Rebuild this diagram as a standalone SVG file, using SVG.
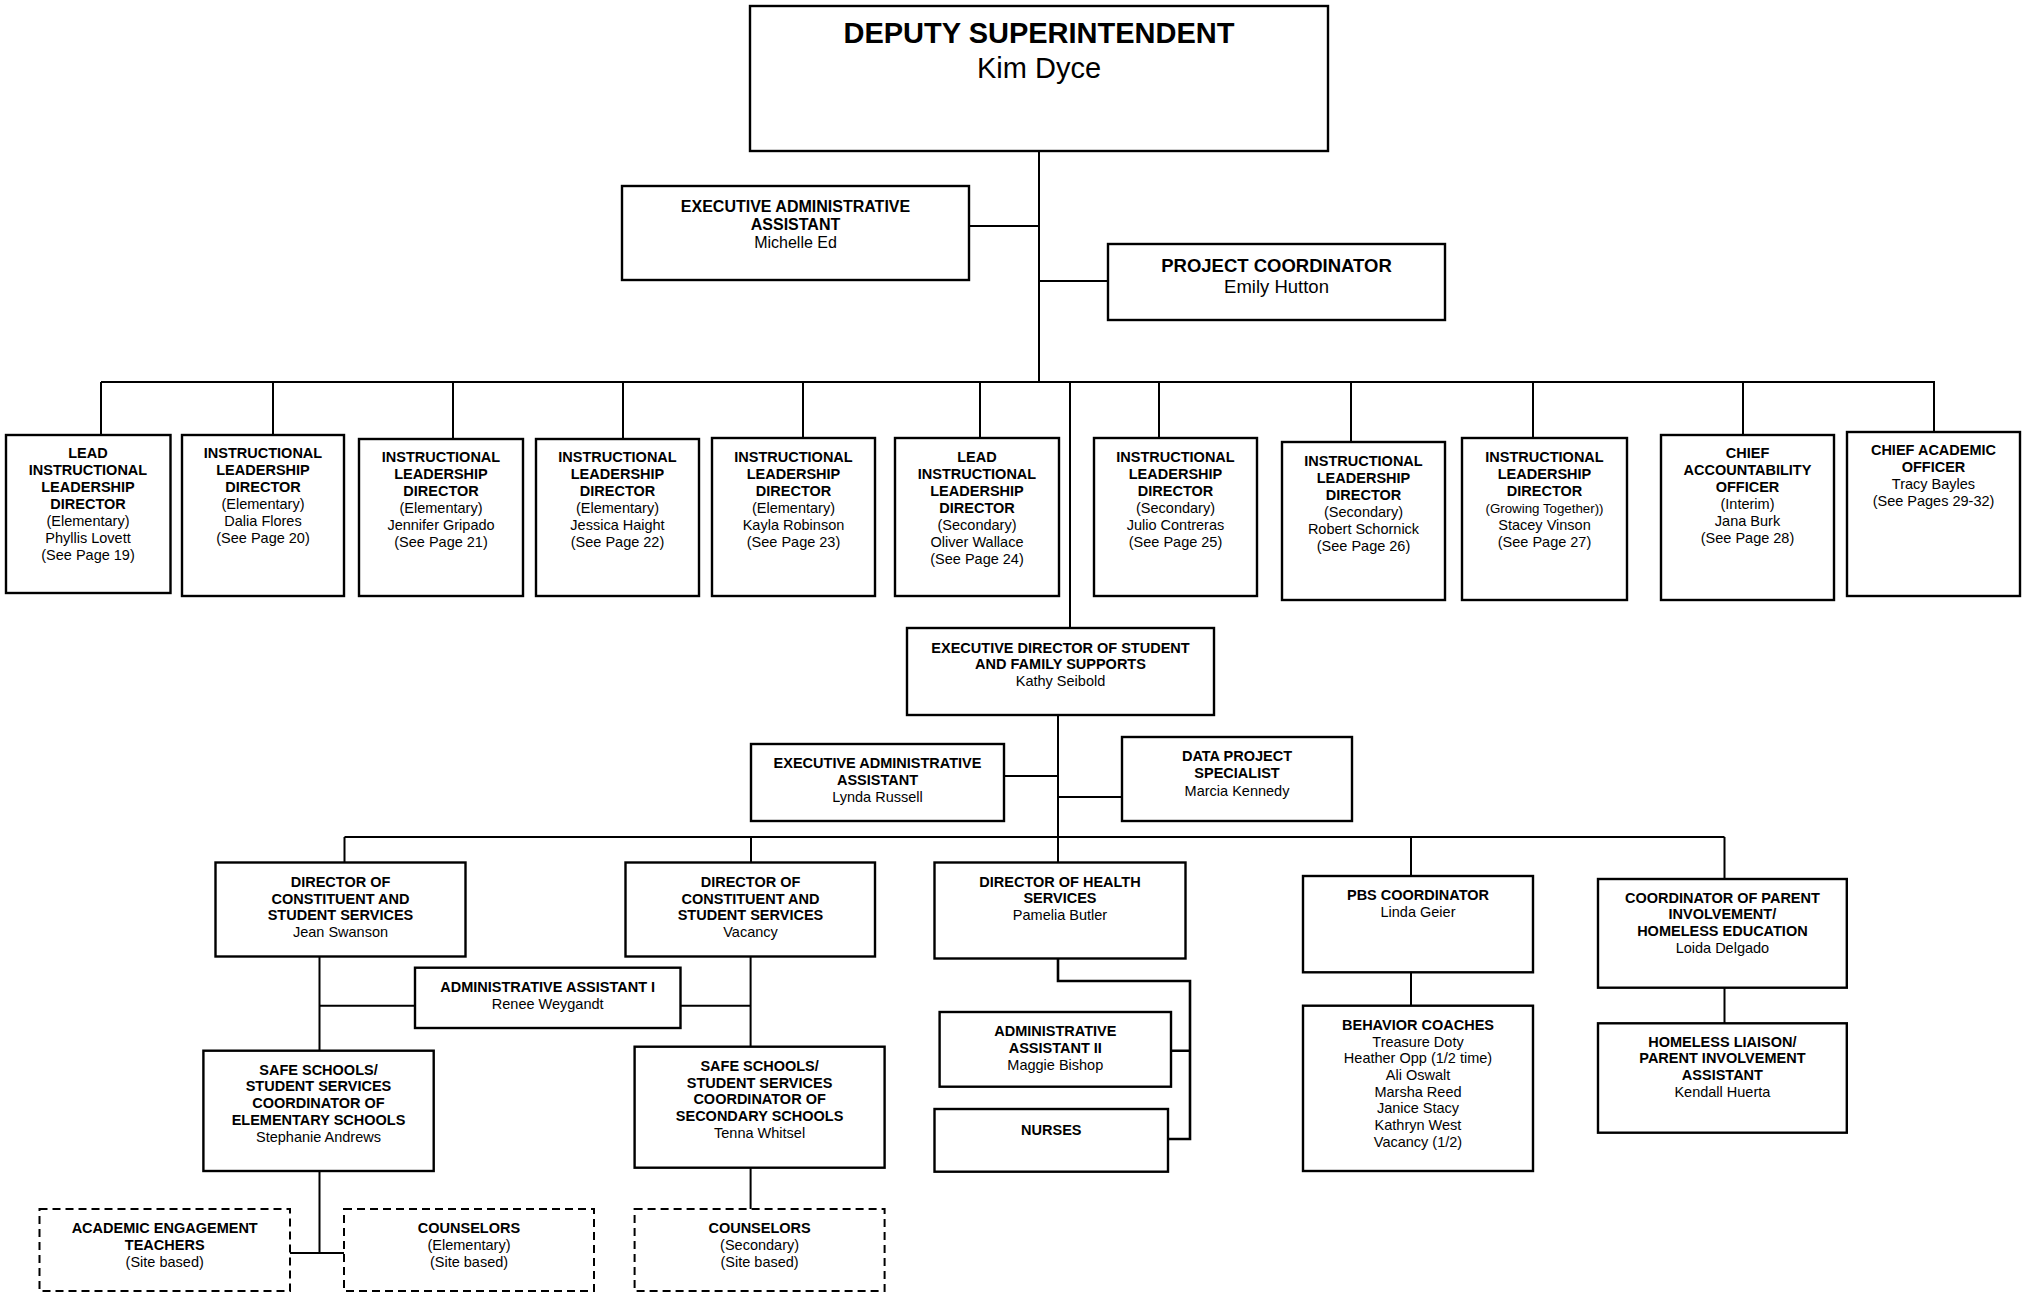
<svg xmlns="http://www.w3.org/2000/svg" width="2028" height="1292" viewBox="0 0 2028 1292">
<style>
.box{fill:#fff;stroke:#000;stroke-width:2.4}
.dash{fill:#fff;stroke:#000;stroke-width:2;stroke-dasharray:8 5}
.ln{fill:none;stroke:#000;stroke-width:2}
.lnb{fill:none;stroke:#000;stroke-width:2.6}
text{font-family:"Liberation Sans",Arial,sans-serif;text-anchor:middle;fill:#000;font-size:14.5px}
.b{font-weight:bold}
.sm{font-size:13.3px}
.m{font-size:16px}
.l{font-size:18.5px}
.xl{font-size:29px}
</style>
<rect width="2028" height="1292" fill="#fff"/>
<g id="connectors">
<path class="ln" d="M1039 151V382M969 226H1039M1039 281H1108"/>
<path class="ln" d="M101 382H1935M101 382V435M273 382V435M453 382V439M623 382V439M803 382V438M980 382V438M1159 382V438M1351 382V442M1533 382V438M1743 382V435M1934 382V432"/>
<path class="ln" d="M1070 382V628"/>
<path class="ln" d="M1058 715V862M1004 776H1058M1058 797H1122"/>
<path class="ln" d="M344.5 837H1724.5M344.5 837V862.5M751 837V862.5M1411 837V876M1724.5 837V879"/>
<path class="ln" d="M319.5 956.5V1253M750.6 956.5V1209M319.5 1005.7H415M680.5 1005.7H750.6M290 1253H344"/>
<path class="lnb" d="M1058 958.5V981H1190V1139H1168M1171 1050.7H1190"/>
<path class="ln" d="M1411 972.3V1005.7M1724.5 987.7V1023.3"/>
</g>
<g id="deputy-superintendent">
<rect class="box" x="750" y="6" width="578" height="145"/>
<text class="b xl" x="1039" y="43">DEPUTY SUPERINTENDENT</text>
<text class="xl" x="1039" y="78">Kim Dyce</text>
</g>
<g id="exec-admin-assistant-1">
<rect class="box" x="622" y="186" width="347" height="94"/>
<text class="b m" x="795.5" y="212">EXECUTIVE ADMINISTRATIVE</text>
<text class="b m" x="795.5" y="230">ASSISTANT</text>
<text class="m" x="795.5" y="248">Michelle Ed</text>
</g>
<g id="project-coordinator">
<rect class="box" x="1108" y="244" width="337" height="76"/>
<text class="b l" x="1276.5" y="272">PROJECT COORDINATOR</text>
<text class="l" x="1276.5" y="293">Emily Hutton</text>
</g>
<g id="ild-lovett">
<rect class="box" x="6" y="435" width="164.5" height="158"/>
<text class="b" x="88" y="458">LEAD</text>
<text class="b" x="88" y="475">INSTRUCTIONAL</text>
<text class="b" x="88" y="492">LEADERSHIP</text>
<text class="b" x="88" y="509">DIRECTOR</text>
<text x="88" y="526">(Elementary)</text>
<text x="88" y="543">Phyllis Lovett</text>
<text x="88" y="560">(See Page 19)</text>
</g>
<g id="ild-flores">
<rect class="box" x="182" y="435" width="162" height="161"/>
<text class="b" x="263" y="458">INSTRUCTIONAL</text>
<text class="b" x="263" y="475">LEADERSHIP</text>
<text class="b" x="263" y="492">DIRECTOR</text>
<text x="263" y="509">(Elementary)</text>
<text x="263" y="526">Dalia Flores</text>
<text x="263" y="543">(See Page 20)</text>
</g>
<g id="ild-gripado">
<rect class="box" x="359" y="439" width="164" height="157"/>
<text class="b" x="441" y="462">INSTRUCTIONAL</text>
<text class="b" x="441" y="479">LEADERSHIP</text>
<text class="b" x="441" y="496">DIRECTOR</text>
<text x="441" y="513">(Elementary)</text>
<text x="441" y="530">Jennifer Gripado</text>
<text x="441" y="547">(See Page 21)</text>
</g>
<g id="ild-haight">
<rect class="box" x="536" y="439" width="163" height="157"/>
<text class="b" x="617.5" y="462">INSTRUCTIONAL</text>
<text class="b" x="617.5" y="479">LEADERSHIP</text>
<text class="b" x="617.5" y="496">DIRECTOR</text>
<text x="617.5" y="513">(Elementary)</text>
<text x="617.5" y="530">Jessica Haight</text>
<text x="617.5" y="547">(See Page 22)</text>
</g>
<g id="ild-robinson">
<rect class="box" x="712" y="438" width="163" height="158"/>
<text class="b" x="793.5" y="462">INSTRUCTIONAL</text>
<text class="b" x="793.5" y="479">LEADERSHIP</text>
<text class="b" x="793.5" y="496">DIRECTOR</text>
<text x="793.5" y="513">(Elementary)</text>
<text x="793.5" y="530">Kayla Robinson</text>
<text x="793.5" y="547">(See Page 23)</text>
</g>
<g id="ild-wallace">
<rect class="box" x="895" y="438" width="164" height="158"/>
<text class="b" x="977" y="462">LEAD</text>
<text class="b" x="977" y="479">INSTRUCTIONAL</text>
<text class="b" x="977" y="496">LEADERSHIP</text>
<text class="b" x="977" y="513">DIRECTOR</text>
<text x="977" y="530">(Secondary)</text>
<text x="977" y="547">Oliver Wallace</text>
<text x="977" y="564">(See Page 24)</text>
</g>
<g id="ild-contreras">
<rect class="box" x="1094" y="438" width="163" height="158"/>
<text class="b" x="1175.5" y="462">INSTRUCTIONAL</text>
<text class="b" x="1175.5" y="479">LEADERSHIP</text>
<text class="b" x="1175.5" y="496">DIRECTOR</text>
<text x="1175.5" y="513">(Secondary)</text>
<text x="1175.5" y="530">Julio Contreras</text>
<text x="1175.5" y="547">(See Page 25)</text>
</g>
<g id="ild-schornick">
<rect class="box" x="1282" y="442" width="163" height="158"/>
<text class="b" x="1363.5" y="466">INSTRUCTIONAL</text>
<text class="b" x="1363.5" y="483">LEADERSHIP</text>
<text class="b" x="1363.5" y="500">DIRECTOR</text>
<text x="1363.5" y="517">(Secondary)</text>
<text x="1363.5" y="534">Robert Schornick</text>
<text x="1363.5" y="551">(See Page 26)</text>
</g>
<g id="ild-vinson">
<rect class="box" x="1462" y="438" width="165" height="162"/>
<text class="b" x="1544.5" y="462">INSTRUCTIONAL</text>
<text class="b" x="1544.5" y="479">LEADERSHIP</text>
<text class="b" x="1544.5" y="496">DIRECTOR</text>
<text class="sm" x="1544.5" y="513">(Growing Together))</text>
<text x="1544.5" y="530">Stacey Vinson</text>
<text x="1544.5" y="547">(See Page 27)</text>
</g>
<g id="chief-accountability">
<rect class="box" x="1661" y="435" width="173" height="165"/>
<text class="b" x="1747.5" y="458">CHIEF</text>
<text class="b" x="1747.5" y="475">ACCOUNTABILITY</text>
<text class="b" x="1747.5" y="492">OFFICER</text>
<text x="1747.5" y="509">(Interim)</text>
<text x="1747.5" y="526">Jana Burk</text>
<text x="1747.5" y="543">(See Page 28)</text>
</g>
<g id="chief-academic">
<rect class="box" x="1847" y="432" width="173" height="164"/>
<text class="b" x="1933.5" y="455">CHIEF ACADEMIC</text>
<text class="b" x="1933.5" y="472">OFFICER</text>
<text x="1933.5" y="489">Tracy Bayles</text>
<text x="1933.5" y="506">(See Pages 29-32)</text>
</g>
<g id="exec-director-sfs">
<rect class="box" x="907" y="628" width="307" height="87"/>
<text class="b" x="1060.5" y="653">EXECUTIVE DIRECTOR OF STUDENT</text>
<text class="b" x="1060.5" y="669">AND FAMILY SUPPORTS</text>
<text x="1060.5" y="686">Kathy Seibold</text>
</g>
<g id="exec-admin-assistant-2">
<rect class="box" x="751" y="744" width="253" height="77"/>
<text class="b" x="877.5" y="768">EXECUTIVE ADMINISTRATIVE</text>
<text class="b" x="877.5" y="785">ASSISTANT</text>
<text x="877.5" y="802">Lynda Russell</text>
</g>
<g id="data-project-specialist">
<rect class="box" x="1122" y="737" width="230" height="84"/>
<text class="b" x="1237" y="761">DATA PROJECT</text>
<text class="b" x="1237" y="778">SPECIALIST</text>
<text x="1237" y="796">Marcia Kennedy</text>
</g>
<g id="dcss-swanson">
<rect class="box" x="215.5" y="862.5" width="250" height="94"/>
<text class="b" x="340.5" y="887">DIRECTOR OF</text>
<text class="b" x="340.5" y="903.5">CONSTITUENT AND</text>
<text class="b" x="340.5" y="920">STUDENT SERVICES</text>
<text x="340.5" y="937">Jean Swanson</text>
</g>
<g id="dcss-vacancy">
<rect class="box" x="625.5" y="862.5" width="249.5" height="94"/>
<text class="b" x="750.5" y="887">DIRECTOR OF</text>
<text class="b" x="750.5" y="903.5">CONSTITUENT AND</text>
<text class="b" x="750.5" y="920">STUDENT SERVICES</text>
<text x="750.5" y="937">Vacancy</text>
</g>
<g id="admin-assistant-1">
<rect class="box" x="415" y="967.7" width="265.5" height="60.3"/>
<text class="b" x="547.7" y="991.7">ADMINISTRATIVE ASSISTANT I</text>
<text x="547.7" y="1009">Renee Weygandt</text>
</g>
<g id="safe-schools-elementary">
<rect class="box" x="203.4" y="1050.7" width="230.3" height="120.3"/>
<text class="b" x="318.5" y="1074.5">SAFE SCHOOLS/</text>
<text class="b" x="318.5" y="1091.2">STUDENT SERVICES</text>
<text class="b" x="318.5" y="1108">COORDINATOR OF</text>
<text class="b" x="318.5" y="1125">ELEMENTARY SCHOOLS</text>
<text x="318.5" y="1142">Stephanie Andrews</text>
</g>
<g id="safe-schools-secondary">
<rect class="box" x="634.6" y="1046.7" width="250" height="121"/>
<text class="b" x="759.6" y="1070.7">SAFE SCHOOLS/</text>
<text class="b" x="759.6" y="1087.5">STUDENT SERVICES</text>
<text class="b" x="759.6" y="1104.3">COORDINATOR OF</text>
<text class="b" x="759.6" y="1121">SECONDARY SCHOOLS</text>
<text x="759.6" y="1138">Tenna Whitsel</text>
</g>
<g id="academic-engagement-teachers">
<rect class="dash" x="39.5" y="1209" width="250.5" height="82"/>
<text class="b" x="164.7" y="1232.7">ACADEMIC ENGAGEMENT</text>
<text class="b" x="164.7" y="1249.5">TEACHERS</text>
<text x="164.7" y="1266.5">(Site based)</text>
</g>
<g id="counselors-elementary">
<rect class="dash" x="344" y="1209" width="250" height="82"/>
<text class="b" x="469" y="1232.7">COUNSELORS</text>
<text x="469" y="1249.5">(Elementary)</text>
<text x="469" y="1266.5">(Site based)</text>
</g>
<g id="counselors-secondary">
<rect class="dash" x="634.6" y="1209" width="250" height="82"/>
<text class="b" x="759.6" y="1232.7">COUNSELORS</text>
<text x="759.6" y="1249.5">(Secondary)</text>
<text x="759.6" y="1266.5">(Site based)</text>
</g>
<g id="director-health-services">
<rect class="box" x="934.5" y="862.5" width="251" height="96"/>
<text class="b" x="1060" y="886.7">DIRECTOR OF HEALTH</text>
<text class="b" x="1060" y="903.3">SERVICES</text>
<text x="1060" y="920">Pamelia Butler</text>
</g>
<g id="admin-assistant-2">
<rect class="box" x="939.6" y="1012" width="231.4" height="74.7"/>
<text class="b" x="1055.3" y="1036">ADMINISTRATIVE</text>
<text class="b" x="1055.3" y="1052.7">ASSISTANT II</text>
<text x="1055.3" y="1070">Maggie Bishop</text>
</g>
<g id="nurses">
<rect class="box" x="934.5" y="1109" width="233.5" height="62.7"/>
<text class="b" x="1051.3" y="1135">NURSES</text>
</g>
<g id="pbs-coordinator">
<rect class="box" x="1303" y="876" width="230" height="96.3"/>
<text class="b" x="1418" y="900">PBS COORDINATOR</text>
<text x="1418" y="917">Linda Geier</text>
</g>
<g id="behavior-coaches">
<rect class="box" x="1303" y="1005.7" width="230" height="165.3"/>
<text class="b" x="1418" y="1030">BEHAVIOR COACHES</text>
<text x="1418" y="1046.7">Treasure Doty</text>
<text x="1418" y="1063.4">Heather Opp (1/2 time)</text>
<text x="1418" y="1080">Ali Oswalt</text>
<text x="1418" y="1096.7">Marsha Reed</text>
<text x="1418" y="1113.4">Janice Stacy</text>
<text x="1418" y="1130">Kathryn West</text>
<text x="1418" y="1147">Vacancy (1/2)</text>
</g>
<g id="coordinator-parent-involvement">
<rect class="box" x="1598" y="879" width="248.8" height="108.7"/>
<text class="b" x="1722.4" y="902.7">COORDINATOR OF PARENT</text>
<text class="b" x="1722.4" y="919.3">INVOLVEMENT/</text>
<text class="b" x="1722.4" y="936">HOMELESS EDUCATION</text>
<text x="1722.4" y="953.3">Loida Delgado</text>
</g>
<g id="homeless-liaison">
<rect class="box" x="1598" y="1023.3" width="248.8" height="109.4"/>
<text class="b" x="1722.4" y="1046.7">HOMELESS LIAISON/</text>
<text class="b" x="1722.4" y="1063.3">PARENT INVOLVEMENT</text>
<text class="b" x="1722.4" y="1080">ASSISTANT</text>
<text x="1722.4" y="1097.3">Kendall Huerta</text>
</g>
</svg>
